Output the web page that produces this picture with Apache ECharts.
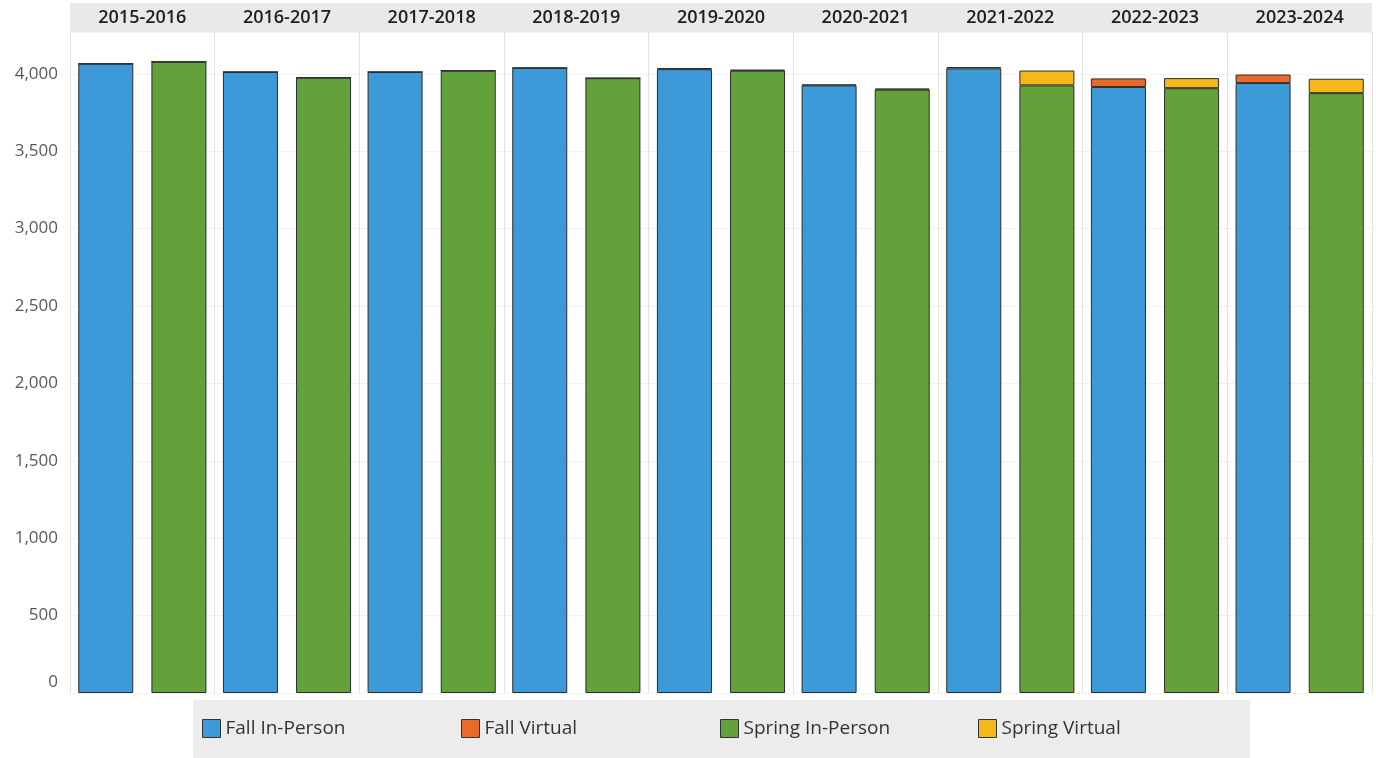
<!DOCTYPE html>
<html>
<head>
<meta charset="utf-8">
<script src="https://cdn.jsdelivr.net/npm/echarts@6/dist/echarts.min.js"></script>
<style>
  html, body { margin: 0; padding: 0; background: #ffffff; }
  #chart { width: 1376px; height: 758px; }
</style>
</head>
<body>
<div id="chart"></div>
<script>
// School years shown as column headers
const years = ['2015-2016', '2016-2017', '2017-2018', '2018-2019', '2019-2020',
               '2020-2021', '2021-2022', '2022-2023', '2023-2024'];

// Enrollment counts per term and mode
const fallInPerson   = [4065, 4012, 4012, 4038, 4030, 3925, 4035, 3915, 3940];
const fallVirtual    = [0, 0, 0, 0, 6, 6, 8, 55, 55];
const springInPerson = [4078, 3975, 4020, 3972, 4020, 3898, 3925, 3907, 3875];
const springVirtual  = [0, 0, 0, 0, 6, 6, 96, 65, 93];

// Value axis ticks
const yTicks = [0, 500, 1000, 1500, 2000, 2500, 3000, 3500, 4000];

const colors = {
  fallIn: '#3d9ad8',
  fallVirt: '#ea6a2c',
  springIn: '#63a23b',
  springVirt: '#f5b818'
};

const font = '"Open Sans", "Noto Sans", sans-serif';
const edge = { borderColor: '#2b2b2b', borderWidth: 1 };

function barSeries(name, data, stack, color) {
  return {
    name: name,
    type: 'bar',
    stack: stack,
    data: data,
    barWidth: 55,
    barGap: '33%',
    itemStyle: Object.assign({ color: color }, edge),
    emphasis: { disabled: true }
  };
}

function legendItem(name, left) {
  return {
    data: [name],
    left: left,
    top: 714,
    icon: 'rect',
    itemWidth: 18,
    itemHeight: 18,
    itemGap: 8,
    selectedMode: false,
    itemStyle: { borderColor: '#333', borderWidth: 1 },
    textStyle: { fontFamily: font, fontSize: 19, color: '#333', padding: [0, 0, 0, 0] }
  };
}

const chart = echarts.init(document.getElementById('chart'), null, { renderer: 'canvas' });

chart.setOption({
  animation: false,
  backgroundColor: '#ffffff',
  grid: { left: 70, right: 4, top: 32, bottom: 65, containLabel: false },
  graphic: {
    elements: [
      // header band behind the year labels
      { type: 'rect', z: -10, shape: { x: 70, y: 3, width: 1302, height: 29 },
        style: { fill: '#e9e9e9' }, silent: true },
      // legend band
      { type: 'rect', z: -10, shape: { x: 193, y: 700, width: 1057, height: 58 },
        style: { fill: '#ececec' }, silent: true }
    ]
  },
  xAxis: {
    type: 'category',
    data: years,
    position: 'top',
    axisLine: { show: false },
    axisTick: { show: false },
    axisLabel: {
      margin: 5,
      fontFamily: font,
      fontSize: 18,
      fontWeight: 600,
      color: '#1e1e1e'
    },
    splitLine: { show: true, interval: 0, lineStyle: { color: '#e4e4e4', width: 1 } }
  },
  yAxis: {
    type: 'value',
    min: yTicks[0],
    max: 4270,
    interval: yTicks[1] - yTicks[0],
    axisLine: { show: false },
    axisTick: { show: false },
    axisLabel: {
      showMaxLabel: false,
      margin: 12,
      fontFamily: font,
      fontSize: 17,
      color: '#5a5a5a',
      formatter: v => {
        if (!yTicks.includes(v)) return '';
        // the zero label sits a little above the baseline
        return v === 0 ? '{zero|0}' : v.toLocaleString('en-US');
      },
      rich: {
        zero: { fontFamily: font, fontSize: 17, color: '#5a5a5a', padding: [0, 0, 22, 0] }
      }
    },
    splitLine: { show: true, lineStyle: { color: 'rgba(0,0,0,0.05)' } }
  },
  legend: [
    legendItem('Fall In-Person', 197),
    legendItem('Fall Virtual', 456),
    legendItem('Spring In-Person', 715),
    legendItem('Spring Virtual', 973)
  ],
  series: [
    barSeries('Fall In-Person', fallInPerson, 'fall', colors.fallIn),
    barSeries('Fall Virtual', fallVirtual, 'fall', colors.fallVirt),
    barSeries('Spring In-Person', springInPerson, 'spring', colors.springIn),
    barSeries('Spring Virtual', springVirtual, 'spring', colors.springVirt)
  ]
});
</script>
</body>
</html>
